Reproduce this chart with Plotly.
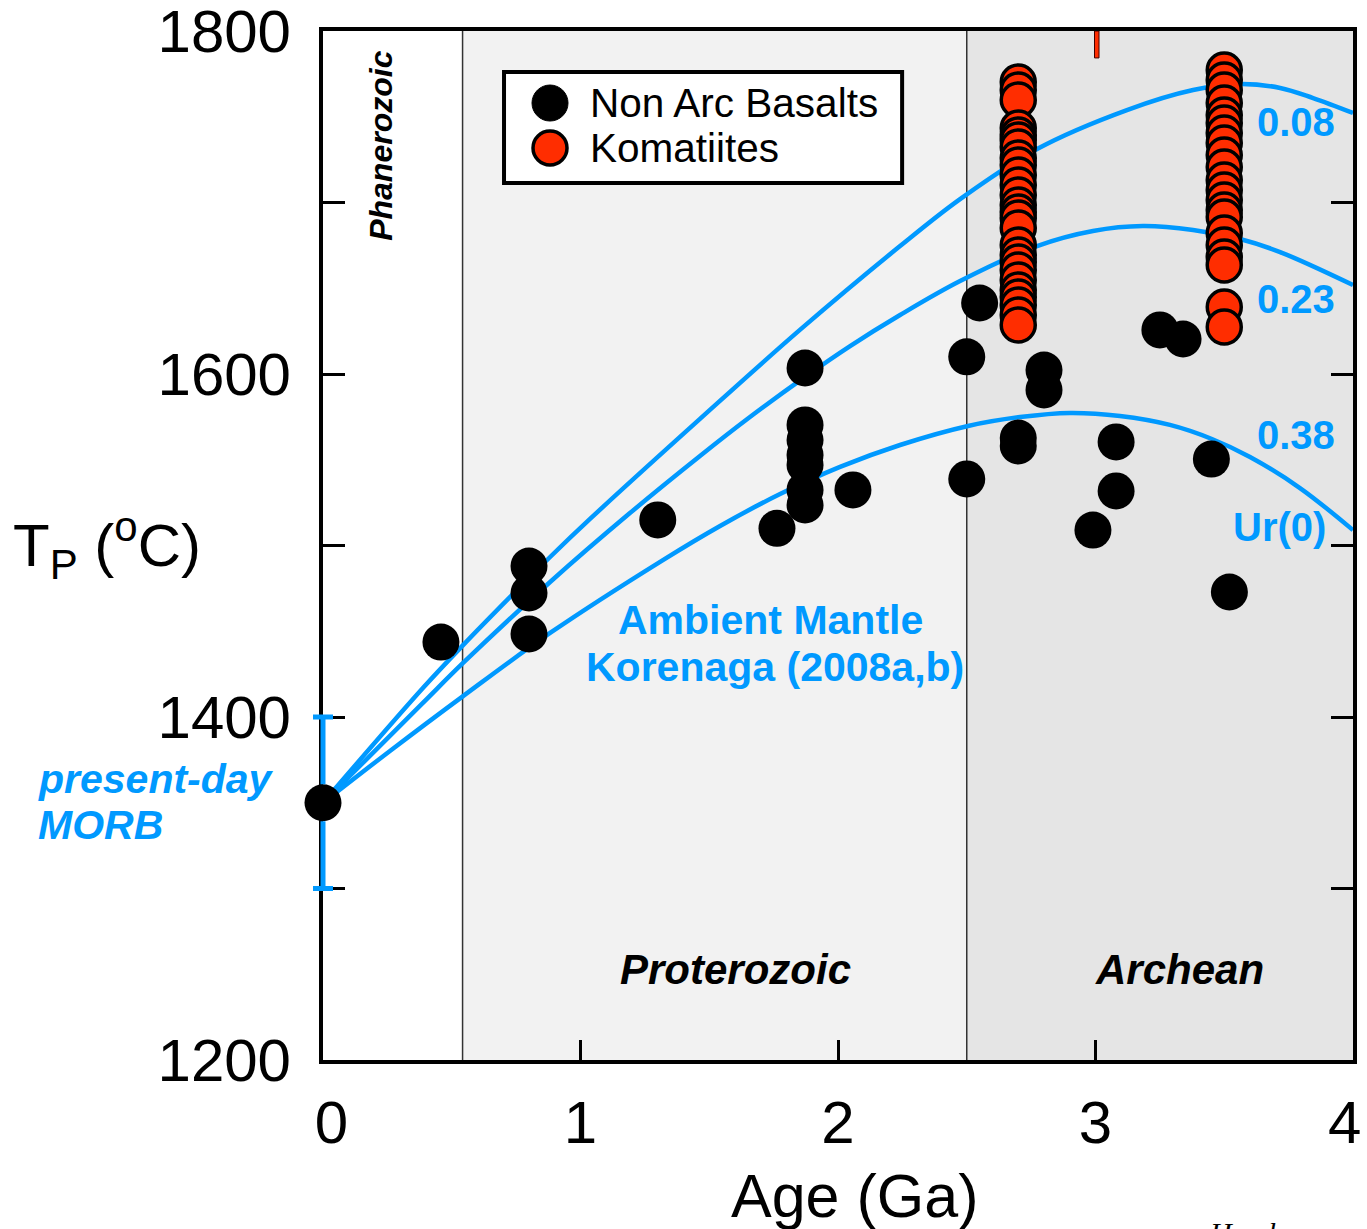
import plotly.graph_objects as go

# ---------------- data ----------------
# Non-arc basalts (Age Ga, Tp degC)
basalt_age = [0.458, 0.80, 0.80, 0.80, 1.30, 1.763, 1.872, 1.872, 1.872, 1.872, 1.872, 1.872, 1.872,
              2.058, 2.50, 2.50, 2.55, 2.70, 2.70, 2.80, 2.80, 2.99, 3.08, 3.08, 3.25, 3.34, 3.45, 3.52]
basalt_tp = [1443.7, 1488.0, 1472.3, 1448.4, 1514.9, 1510.0, 1603.5, 1570.3, 1561.5, 1552.8, 1547.0, 1532.4, 1523.6,
             1532.4, 1610.0, 1538.8, 1641.4, 1562.7, 1558.0, 1602.3, 1590.7, 1509.0, 1560.4, 1531.8, 1625.7, 1620.4, 1550.4, 1472.9]

# Komatiites
kom_age_a = [2.70] * 26
kom_tp_a = [1770.3, 1765.6, 1759.8, 1743.4, 1739.4, 1736.4, 1732.4, 1726.0, 1721.9, 1716.0, 1710.2, 1704.4, 1698.5,
            1694.4, 1690.9, 1685.1, 1675.2, 1669.4, 1665.3, 1660.6, 1654.8, 1649.0, 1644.9, 1640.2, 1634.4, 1628.6]
kom_age_b = [3.50] * 21
kom_tp_b = [1777.3, 1771.4, 1765.6, 1758.0, 1751.0, 1746.4, 1740.5, 1734.7, 1727.7, 1720.7, 1713.1, 1707.3, 1701.5,
            1695.6, 1691.5, 1682.2, 1675.2, 1668.2, 1663.6, 1639.1, 1627.4]

# Present-day MORB
morb_age = [0.0]
morb_tp = [1350.0]
morb_err = [50.0]

# Korenaga ambient mantle curves (Urey ratio labels)
ur008_age = [0, 0.388, 0.544, 0.726, 0.882, 1.037, 1.464, 1.852, 2.241, 2.474, 2.773, 3.122, 3.379,
             3.561, 3.717, 3.845, 4.0]
ur008_tp = [1350, 1416.9, 1441.9, 1469.9, 1493.3, 1515.5, 1573.8, 1625.7, 1674.6, 1702.0, 1731.2, 1753.9, 1765.6,
            1769.1, 1766.8, 1760.9, 1752.2]
ur023_age = [0, 0.388, 0.544, 0.882, 1.192, 1.464, 1.658, 1.872, 2.047, 2.241, 2.474, 2.773, 2.990,
             3.184, 3.379, 3.561, 3.717, 4.0]
ur023_tp = [1350, 1408.2, 1431.5, 1478.7, 1518.9, 1552.2, 1574.9, 1598.3, 1616.3, 1634.4, 1654.2, 1674.6, 1683.4,
            1686.3, 1684.0, 1678.7, 1671.1, 1651.9]
ur038_age = [0, 0.260, 0.544, 0.882, 1.320, 1.542, 1.775, 2.008, 2.241, 2.505, 2.707, 2.901, 3.095,
             3.289, 3.452, 3.600, 3.794, 4.0]
ur038_tp = [1350, 1380.2, 1412.2, 1449.0, 1491.5, 1511.4, 1530.0, 1545.8, 1558.6, 1569.7, 1574.9, 1577.3, 1575.5,
            1570.3, 1562.1, 1551.6, 1533.5, 1509.0]
curve_labels = ["0.08", "0.23", "0.38", "Ur(0)"]

# Geological eons (Ga)
eon_names = ["Phanerozoic", "Proterozoic", "Archean"]
eon_bounds = [0.0, 0.542, 2.5, 4.0]

x_ticks = [0, 1, 2, 3, 4]
x_ticktext = ["\u00a00", "1", "2", "3", "4\u00a0"]
y_ticks = [1200, 1300, 1400, 1500, 1600, 1700, 1800]
y_ticktext = ["1200", "", "1400", "", "1600", "", "1800"]

# ---------------- style ----------------
BLUE = "#0099FF"
RED = "#FF2D00"
FONT = "Liberation Sans, Arial, sans-serif"
DOT = 37          # marker diameter, px
PX_PER_DEG = 1029 / 600.0

fig = go.Figure()

curves = [(ur008_age, ur008_tp), (ur023_age, ur023_tp), (ur038_age, ur038_tp)]
for ax, ay in curves:
    fig.add_trace(go.Scatter(x=ax, y=ay, mode="lines", line=dict(color=BLUE, width=4.5, shape="spline", smoothing=1.0),
                             showlegend=False, hoverinfo="skip"))

fig.add_trace(go.Scatter(x=morb_age, y=morb_tp, mode="markers",
                         marker=dict(color="black", size=DOT),
                         cliponaxis=False, showlegend=False))

fig.add_trace(go.Scatter(x=basalt_age, y=basalt_tp, mode="markers", name="Non Arc Basalts",
                         marker=dict(color="black", size=DOT), cliponaxis=False, showlegend=False))

fig.add_trace(go.Scatter(x=kom_age_a + kom_age_b, y=kom_tp_a + kom_tp_b, mode="markers", name="Komatiites",
                         marker=dict(color=RED, size=34, line=dict(color="black", width=3.5)),
                         cliponaxis=False, showlegend=False))

shapes = []
# eon shading
shapes.append(dict(type="rect", xref="x", yref="y", x0=eon_bounds[1], x1=eon_bounds[2], y0=1200, y1=1800,
                   fillcolor="#F2F2F2", line=dict(width=0), layer="below"))
shapes.append(dict(type="rect", xref="x", yref="y", x0=eon_bounds[2], x1=eon_bounds[3], y0=1200, y1=1800,
                   fillcolor="#E5E5E5", line=dict(width=0), layer="below"))
for b in eon_bounds[1:3]:
    shapes.append(dict(type="line", xref="x", yref="y", x0=b, x1=b, y0=1200, y1=1800,
                       line=dict(color="#333333", width=1.5), layer="below"))
# red tick mark at top (x = 3)
shapes.append(dict(type="rect", xref="x", yref="y", xsizemode="pixel", xanchor=3.0, x0=-1, x1=3.5,
                   y0=1784.3, y1=1800, fillcolor=RED, line=dict(color="#400000", width=1), layer="above"))

# MORB error bar (drawn on top of the axis line; the dot hides its middle)
gap = (DOT / 2.0) / PX_PER_DEG
lo = morb_tp[0] - morb_err[0]
hi = morb_tp[0] + morb_err[0]
for (a, b) in [(lo, morb_tp[0] - gap), (morb_tp[0] + gap, hi)]:
    shapes.append(dict(type="line", xref="paper", yref="y", x0=morb_age[0], x1=morb_age[0], y0=a, y1=b,
                       line=dict(color=BLUE, width=5), layer="above"))
for yv in (lo, hi):
    shapes.append(dict(type="line", xref="paper", yref="y", xsizemode="pixel", xanchor=morb_age[0],
                       x0=-10, x1=10, y0=yv, y1=yv, line=dict(color=BLUE, width=5), layer="above"))

# manual legend
shapes.append(dict(type="rect", xref="x", yref="y", x0=0.703, x1=2.249, y0=1711.4, y1=1776.1,
                   fillcolor="white", line=dict(color="black", width=4), layer="above"))
shapes.append(dict(type="circle", xref="x", yref="y", xsizemode="pixel", ysizemode="pixel",
                   xanchor=0.8816, yanchor=1758.0, x0=-18, x1=18, y0=-18, y1=18,
                   fillcolor="black", line=dict(color="black", width=1), layer="above"))
shapes.append(dict(type="circle", xref="x", yref="y", xsizemode="pixel", ysizemode="pixel",
                   xanchor=0.8816, yanchor=1731.8, x0=-17, x1=17, y0=-17, y1=17,
                   fillcolor=RED, line=dict(color="black", width=3.5), layer="above"))

annotations = [
    dict(x=1.029, y=1758.0, text="Non Arc Basalts", xanchor="left", yanchor="middle", showarrow=False,
         font=dict(size=40.5, color="black", family=FONT)),
    dict(x=1.029, y=1731.8, text="Komatiites", xanchor="left", yanchor="middle", showarrow=False,
         font=dict(size=40.5, color="black", family=FONT)),
    dict(x=1.738, y=1456.6, text="<b>Ambient Mantle</b>", showarrow=False,
         xanchor="center", yanchor="middle", font=dict(size=41, color=BLUE, family=FONT)),
    dict(x=1.754, y=1429.2, text="<b>Korenaga (2008a,b)</b>", showarrow=False,
         xanchor="center", yanchor="middle", font=dict(size=41, color=BLUE, family=FONT)),
    dict(x=3.779, y=1747.0, text="<b>" + curve_labels[0] + "</b>", showarrow=False,
         font=dict(size=40, color=BLUE, family=FONT)),
    dict(x=3.779, y=1643.7, text="<b>" + curve_labels[1] + "</b>", showarrow=False,
         font=dict(size=40, color=BLUE, family=FONT)),
    dict(x=3.779, y=1564.4, text="<b>" + curve_labels[2] + "</b>", showarrow=False,
         font=dict(size=40, color=BLUE, family=FONT)),
    dict(x=3.713, y=1510.8, text="<b>" + curve_labels[3] + "</b>", showarrow=False,
         font=dict(size=40, color=BLUE, family=FONT)),
    dict(x=1.60, y=1252.5, text="<b><i>" + eon_names[1] + "</i></b>", showarrow=False,
         font=dict(size=42, color="black", family=FONT)),
    dict(x=3.328, y=1252.5, text="<b><i>" + eon_names[2] + "</i></b>", showarrow=False,
         font=dict(size=42, color="black", family=FONT)),
    dict(x=0.225, y=1733.0, text="<b><i>" + eon_names[0] + "</i></b>", showarrow=False, textangle=-90,
         font=dict(size=32, color="black", family=FONT)),
    dict(xref="paper", yref="y", x=(36 - 323) / 1030, y=1363.8, text="<b><i>present-day</i></b>",
         showarrow=False, xanchor="left", yanchor="middle", font=dict(size=41, color=BLUE, family=FONT)),
    dict(xref="paper", yref="y", x=(36 - 323) / 1030, y=1337.0, text="<b><i>MORB</i></b>",
         showarrow=False, xanchor="left", yanchor="middle", font=dict(size=41, color=BLUE, family=FONT)),
    dict(xref="paper", yref="paper", x=(855 - 323) / 1030, y=(1060 - 1196) / 1029, text="Age (Ga)",
         showarrow=False, xanchor="center", yanchor="middle", font=dict(size=61, color="black", family=FONT)),
    dict(xref="paper", yref="paper", x=(107 - 323) / 1030, y=(1060 - 545) / 1029,
         text="T<sub>P</sub> (<sup>o</sup>C)", showarrow=False, xanchor="center", yanchor="middle",
         font=dict(size=60, color="black", family=FONT)),
    dict(xref="paper", yref="paper", x=(1207 - 323) / 1030, y=(1060 - 1214) / 1029, text="<i>Herzberg</i>",
         showarrow=False, xanchor="left", yanchor="top", font=dict(size=30, color="black", family="Liberation Serif")),
]

fig.update_layout(
    width=1367, height=1229,
    margin=dict(l=323, r=14, t=31, b=169, pad=0, autoexpand=False),
    paper_bgcolor="white", plot_bgcolor="white",
    showlegend=False,
    shapes=shapes, annotations=annotations,
    font=dict(family=FONT, color="black"),
)
fig.update_xaxes(range=[0, 4], tickvals=x_ticks, ticktext=x_ticktext,
                 ticks="inside", ticklen=20, tickwidth=3, tickcolor="black",
                 showline=True, linewidth=4, linecolor="black", mirror=True,
                 showgrid=False, zeroline=False, tickfont=dict(size=60, family=FONT),
                 ticklabelstandoff=7, ticklabeloverflow="allow", layer="below traces", automargin=False)
fig.update_yaxes(range=[1200, 1800], tickvals=y_ticks, ticktext=y_ticktext,
                 ticks="inside", ticklen=22, tickwidth=3, tickcolor="black",
                 showline=True, linewidth=4, linecolor="black", mirror="ticks",
                 showgrid=False, zeroline=False, tickfont=dict(size=60, family=FONT),
                 ticklabelstandoff=16, ticklabeloverflow="allow", layer="below traces", automargin=False)

fig.write_html("out.html")
